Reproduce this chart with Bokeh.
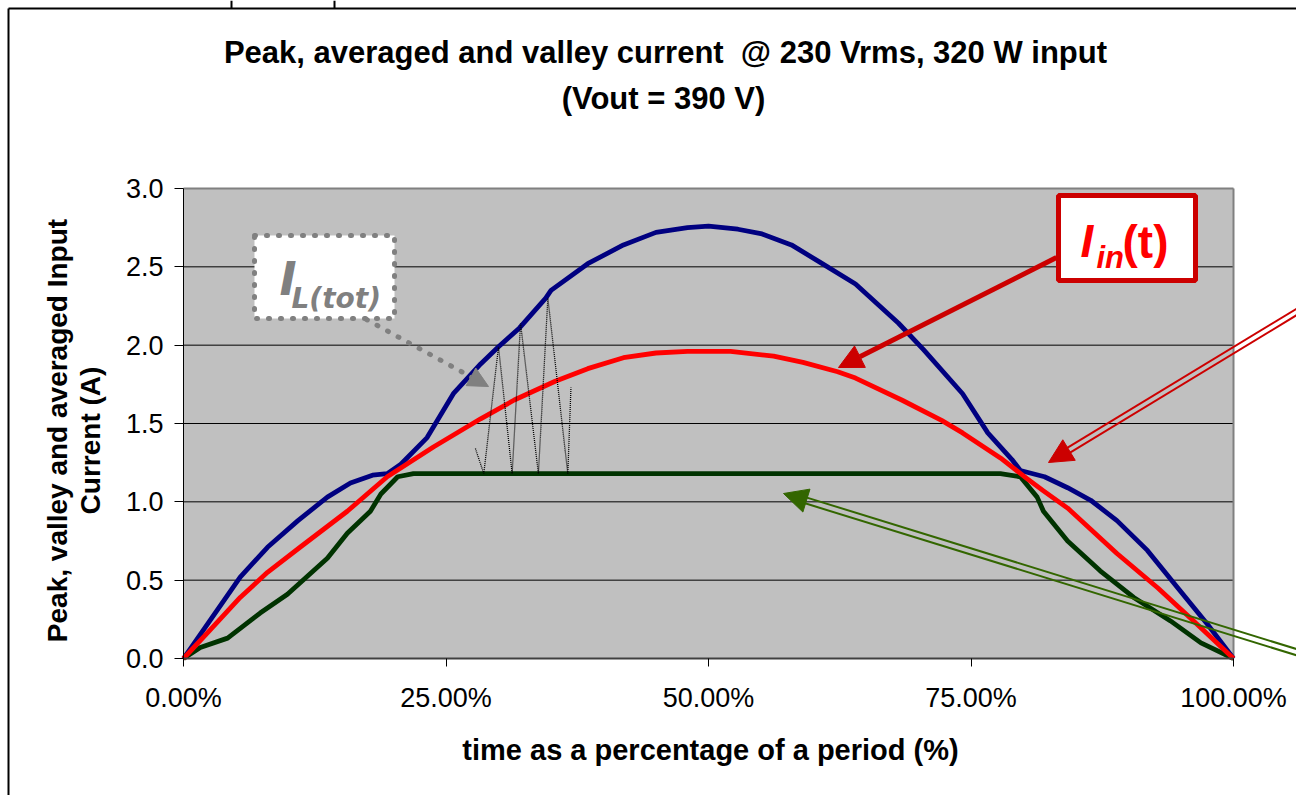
import math
from bokeh.plotting import figure
from bokeh.models import Range1d, FixedTicker, PrintfTickFormatter, Label, Arrow, NormalHead
from bokeh.embed import file_html
from bokeh.resources import INLINE

# ---------------- data ----------------
peak_x = [0, 2.5, 5.4, 8.0, 10.9, 13.7, 15.9, 18.0, 19.4, 20.7, 23.2, 25.7, 28.3, 30.0, 32.0,
          34.5, 35.0, 38.5, 41.9, 45.0, 48.0, 50.0, 52.8, 55.1, 57.9, 60.6, 64.0, 68.1, 70.5,
          74.2, 76.6, 78.9, 79.7, 82.0, 84.2, 86.4, 88.9, 91.8, 94.7, 97.5, 100]
peak_y = [0, 0.24, 0.52, 0.71, 0.88, 1.03, 1.12, 1.17, 1.18, 1.24, 1.41, 1.69, 1.88, 1.99, 2.11,
          2.30, 2.35, 2.52, 2.64, 2.72, 2.75, 2.76, 2.74, 2.71, 2.64, 2.53, 2.39, 2.14, 1.97,
          1.69, 1.44, 1.27, 1.20, 1.16, 1.09, 1.01, 0.88, 0.69, 0.45, 0.22, 0]

avg_x = [0, 2.5, 5.4, 8.0, 11.1, 15.6, 19.4, 23.8, 28.3, 31.5, 35.4, 38.5, 41.9, 45.0, 48.0,
         52.1, 56.2, 59.0, 62.3, 64.0, 68.4, 72.2, 74.2, 77.8, 80.3, 81.9, 84.2, 88.9, 92.8,
         96.2, 100]
avg_y = [0, 0.18, 0.39, 0.55, 0.71, 0.94, 1.16, 1.35, 1.53, 1.65, 1.77, 1.85, 1.92, 1.95, 1.96,
         1.96, 1.93, 1.89, 1.83, 1.79, 1.65, 1.52, 1.44, 1.28, 1.15, 1.07, 0.96, 0.67, 0.45,
         0.24, 0]

valley_x = [0, 1.6, 4.2, 7.3, 9.9, 13.7, 15.6, 17.8, 18.8, 20.4, 21.9, 77.8, 79.7, 81.3, 81.9,
            84.2, 87.3, 90.5, 94.0, 96.9, 100]
valley_y = [0, 0.07, 0.13, 0.29, 0.41, 0.64, 0.80, 0.94, 1.05, 1.16, 1.18, 1.18, 1.16, 1.03, 0.94,
            0.75, 0.56, 0.39, 0.24, 0.10, 0]

ripple_x = [27.8, 28.6, 30.0, 31.3, 32.1, 33.8, 34.7, 36.6, 36.9]
ripple_y = [1.34, 1.18, 1.99, 1.18, 2.14, 1.18, 2.30, 1.18, 1.73]

x_ticks = [0, 25, 50, 75, 100]
x_tick_labels = ["0.00%", "25.00%", "50.00%", "75.00%", "100.00%"]
y_ticks = [0, 0.5, 1.0, 1.5, 2.0, 2.5, 3.0]

title_lines = ["Peak, averaged and valley current\u00a0 @ 230 Vrms, 320 W input", "(Vout = 390 V)"]
y_label_lines = ["Peak, valley and averaged Input", "Current (A)"]
x_label = "time as a percentage of a period (%)"

# ---------------- layout (pixel geometry of the page) ----------------
W, H = 1296, 795
FX0, FX1 = 183, 1233       # 0 % and 100 % on the page
FY0, FY1 = 658, 188        # 0.0 A and 3.0 A on the page
PX_PER_PCT = (FX1 - FX0) / (x_ticks[-1] - x_ticks[0])
PX_PER_A = (FY0 - FY1) / (y_ticks[-1] - y_ticks[0])


def px2x(px):
    return (px - FX0) / PX_PER_PCT


def px2y(py):
    return (FY0 - py) / PX_PER_A


FONT = "Liberation Sans"

p = figure(width=W, height=H, x_range=Range1d(px2x(0), px2x(W)), y_range=Range1d(px2y(H), px2y(0)),
           output_backend="svg", toolbar_location=None, title=None,
           min_border_left=0, min_border_right=0, min_border_top=0, min_border_bottom=0,
           background_fill_color="white", border_fill_color="white", outline_line_color=None)
p.xgrid.visible = False
p.ygrid.visible = False

# chart border (the reference shows its top-left corner at 8,8)
p.segment(x0=[px2x(8)], y0=[px2y(8)], x1=[px2x(8)], y1=[px2y(H + 5)], line_color="black", line_width=2)
p.segment(x0=[px2x(8)], y0=[px2y(8)], x1=[px2x(W + 5)], y1=[px2y(8)], line_color="black", line_width=2)
p.segment(x0=[px2x(231), px2x(334)], y0=[px2y(0)] * 2, x1=[px2x(231), px2x(334)], y1=[px2y(8)] * 2,
          line_color="black", line_width=2)

# plot area
p.quad(left=[x_ticks[0]], right=[x_ticks[-1]], bottom=[y_ticks[0]], top=[y_ticks[-1]],
       fill_color="#C0C0C0", line_color=None)
p.segment(x0=[x_ticks[0]] * 5, x1=[x_ticks[-1]] * 5, y0=y_ticks[1:-1], y1=y_ticks[1:-1],
          line_color="black", line_width=1)
p.segment(x0=[x_ticks[0]], x1=[x_ticks[-1]], y0=[y_ticks[-1]], y1=[y_ticks[-1]],
          line_color="#808080", line_width=2)
p.segment(x0=[x_ticks[-1]], x1=[x_ticks[-1]], y0=[y_ticks[0]], y1=[y_ticks[-1]],
          line_color="#808080", line_width=2)

# axes, pinned at 0 so they sit at the plot-area edges
xa = p.xaxis[0]
xa.fixed_location = 0
xa.ticker = FixedTicker(ticks=x_ticks)
xa.major_label_overrides = {t: l for t, l in zip(x_ticks, x_tick_labels)}
xa.bounds = (x_ticks[0], x_ticks[-1])
xa.axis_line_color = "#404040"
xa.axis_line_width = 2
xa.major_tick_out = 8
xa.major_tick_in = 0
xa.major_tick_line_color = "black"
xa.minor_tick_line_color = None
xa.major_label_text_font = FONT
xa.major_label_text_font_size = "27px"
xa.major_label_text_color = "black"
xa.major_label_standoff = 16

ya = p.yaxis[0]
ya.fixed_location = 0
ya.ticker = FixedTicker(ticks=y_ticks)
ya.formatter = PrintfTickFormatter(format="%.1f")
ya.bounds = (y_ticks[0], y_ticks[-1])
ya.axis_line_color = "black"
ya.axis_line_width = 1
ya.major_tick_out = 9
ya.major_tick_in = 0
ya.major_tick_line_color = "black"
ya.minor_tick_line_color = None
ya.major_label_text_font = FONT
ya.major_label_text_font_size = "27px"
ya.major_label_text_color = "black"
ya.major_label_standoff = 11

# curves
p.line(peak_x, peak_y, line_color="#000080", line_width=4.8, line_join="round")
p.line(valley_x, valley_y, line_color="#003300", line_width=4.8, line_join="round")
p.line(avg_x, avg_y, line_color="#FF0000", line_width=4.8, line_join="round")
p.line(ripple_x, ripple_y, line_color="black", line_width=1.3, line_dash="1 1")


def mid(baseline_px, size, ascent=0.905, descent=0.212):
    """page y of the text box middle for a given alphabetic baseline"""
    return baseline_px - (ascent - (ascent + descent) / 2) * size


# IL(tot) call-out box
p.quad(left=[px2x(254)], right=[px2x(394)], top=[px2y(235)], bottom=[px2y(318)],
       fill_color="white", line_color="#808080", line_width=5, line_dash="1 11", line_cap="round")
p.add_layout(Label(x=px2x(279), y=px2y(mid(294, 46, 0.928, 0.236)), text="I", text_font="DejaVu Sans",
                   text_font_style="bold italic", text_font_size="46px", text_color="#808080",
                   text_align="left", text_baseline="middle"))
p.add_layout(Label(x=px2x(291), y=px2y(mid(308, 28, 0.928, 0.236)), text="L(tot)", text_font="DejaVu Sans",
                   text_font_style="bold italic", text_font_size="28px", text_color="#808080",
                   text_align="left", text_baseline="middle"))
p.add_layout(Arrow(x_start=px2x(366), y_start=px2y(319), x_end=px2x(488), y_end=px2y(386),
                   line_color="#808080", line_width=5, line_dash="1 11", line_cap="round",
                   end=NormalHead(size=20, fill_color="#808080", line_color="#808080", line_width=1)))

# Iin(t) call-out box
p.quad(left=[px2x(1058)], right=[px2x(1195)], top=[px2y(195)], bottom=[px2y(280)],
       fill_color="white", line_color="#CC0000", line_width=5)
p.add_layout(Label(x=px2x(1080), y=px2y(mid(256, 46)), text="I", text_font=FONT,
                   text_font_style="bold italic", text_font_size="46px", text_color="#FF0000",
                   text_align="left", text_baseline="middle"))
p.add_layout(Label(x=px2x(1096), y=px2y(mid(268, 31)), text="in", text_font=FONT,
                   text_font_style="bold italic", text_font_size="31px", text_color="#FF0000",
                   text_align="left", text_baseline="middle"))
p.add_layout(Label(x=px2x(1122), y=px2y(mid(257, 46)), text="(t)", text_font=FONT,
                   text_font_style="bold", text_font_size="46px", text_color="#FF0000",
                   text_align="left", text_baseline="middle"))
p.add_layout(Arrow(x_start=px2x(1056), y_start=px2y(257), x_end=px2x(838), y_end=px2y(367),
                   line_color="#CC0000", line_width=5,
                   end=NormalHead(size=24, fill_color="#CC0000", line_color="#CC0000", line_width=1)))


# double-line arrows
def double_arrow(start_px, tip_px, color, gap, size):
    sx, sy = start_px
    tx, ty = tip_px
    dx, dy = sx - tx, sy - ty
    L = math.hypot(dx, dy)
    ux, uy = dx / L, dy / L
    bx, by = tx + ux * size * 0.7, ty + uy * size * 0.7
    nx, ny = -uy, ux
    for s in (-1, 1):
        ox, oy = s * nx * gap / 2, s * ny * gap / 2
        p.segment(x0=[px2x(sx + ox)], y0=[px2y(sy + oy)], x1=[px2x(bx + ox)], y1=[px2y(by + oy)],
                  line_color=color, line_width=2)
    p.add_layout(Arrow(x_start=px2x(bx), y_start=px2y(by), x_end=px2x(tx), y_end=px2y(ty),
                       line_color=None,
                       end=NormalHead(size=size, fill_color=color, line_color=color, line_width=1)))


double_arrow((1310, 303), (1048, 462), "#CC0000", 5.5, 24)
double_arrow((1310, 656), (783, 493), "#336600", 6, 24)

# titles and axis labels
p.add_layout(Label(x=px2x(665), y=px2y(52), text=title_lines[0], text_font=FONT,
                   text_font_style="bold", text_font_size="31px", text_color="black",
                   text_align="center", text_baseline="middle"))
p.add_layout(Label(x=px2x(663), y=px2y(98), text=title_lines[1], text_font=FONT,
                   text_font_style="bold", text_font_size="31px", text_color="black",
                   text_align="center", text_baseline="middle"))
p.add_layout(Label(x=px2x(57), y=px2y(430), text=y_label_lines[0], text_font=FONT,
                   text_font_style="bold", text_font_size="28px", text_color="black",
                   angle=90, angle_units="deg", text_align="center", text_baseline="middle"))
p.add_layout(Label(x=px2x(90), y=px2y(440), text=y_label_lines[1], text_font=FONT,
                   text_font_style="bold", text_font_size="28px", text_color="black",
                   angle=90, angle_units="deg", text_align="center", text_baseline="middle"))
p.add_layout(Label(x=px2x(710), y=px2y(749), text=x_label, text_font=FONT,
                   text_font_style="bold", text_font_size="29px", text_color="black",
                   text_align="center", text_baseline="middle"))

open("out.html", "w").write(file_html(p, INLINE))
